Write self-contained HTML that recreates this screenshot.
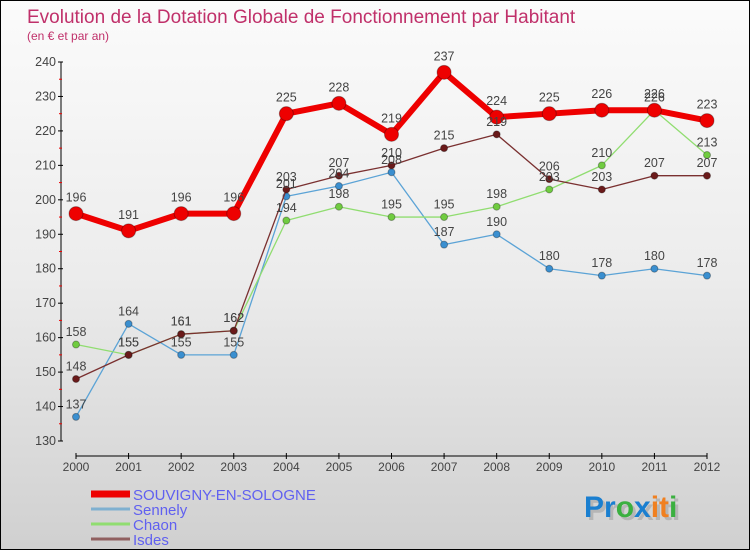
<!DOCTYPE html>
<html><head><meta charset="utf-8">
<style>
body{margin:0;}
#root{width:750px;height:550px;position:relative;overflow:hidden;box-sizing:border-box;border:1px solid #000;
background:linear-gradient(#fbfbfb 0%,#ececec 50%,#d0d0d0 100%);font-family:"Liberation Sans",sans-serif;}
svg text{font-family:"Liberation Sans",sans-serif;}
</style></head><body>
<div id="root">
<svg id="chart" width="750" height="550">
<text x="26" y="22" font-size="19" font-weight="normal" fill="#c0306a">Evolution de la Dotation Globale de Fonctionnement par Habitant</text>
<text x="26" y="39" font-size="12" fill="#c0306a">(en € et par an)</text>
<g id="axes"></g>
<g id="series"></g>
<g id="labels"></g>
<g id="legend"></g>
<text x="586" y="519" font-size="30" font-weight="bold" fill="#999" opacity="0.5">Proxiti</text>
<text x="583" y="516" font-size="30" font-weight="bold"><tspan fill="#1a7fd0">Pr</tspan><tspan fill="#3bb040">o</tspan><tspan fill="#1a7fd0">x</tspan><tspan fill="#f08020">i</tspan><tspan fill="#f08020">t</tspan><tspan fill="#3bb040">i</tspan></text>
</svg>
</div>
<script>
const years=[2000,2001,2002,2003,2004,2005,2006,2007,2008,2009,2010,2011,2012];
const yTicks=[130,140,150,160,170,180,190,200,210,220,230,240];
const souvigny=[196,191,196,196,225,228,219,237,224,225,226,226,223];
const sennely=[137,164,155,155,201,204,208,187,190,180,178,180,178];
const chaon=[158,155,161,162,194,198,195,195,198,203,210,226,213];
const isdes=[148,155,161,162,203,207,210,215,219,206,203,207,207];
const seriesNames=["SOUVIGNY-EN-SOLOGNE","Sennely","Chaon","Isdes"];

const NS="http://www.w3.org/2000/svg";
const X0=75,X1=706,Y0=440,Y1=61,VMIN=130,VMAX=240;
function xs(i){return X0+(X1-X0)*i/(years.length-1);}
function ys(v){return Y0-(v-VMIN)*(Y0-Y1)/(VMAX-VMIN);}
function mk(tag,attrs,parent){const e=document.createElementNS(NS,tag);for(const k in attrs)e.setAttribute(k,attrs[k]);parent.appendChild(e);return e;}
const axes=document.getElementById('axes');
let e=mk('line',{x1:60,y1:Y1,x2:60,y2:Y0,stroke:'#000','stroke-width':1},axes);


e=mk('line',{x1:X0,y1:455,x2:X1,y2:455,stroke:'#000','stroke-width':1},axes);


yTicks.forEach((v,i)=>{
 mk('line',{x1:57,y1:ys(v),x2:62,y2:ys(v),stroke:'#000'},axes);
 if(i<yTicks.length-1) mk('line',{x1:58,y1:ys(v+5),x2:61,y2:ys(v+5),stroke:'#e00'},axes);
 const t=mk('text',{x:55,y:ys(v)+4,'font-size':12.5,'text-anchor':'end',fill:'#444'},axes);
 t.textContent=v;
 
 
});
years.forEach((yr,i)=>{
 mk('line',{x1:xs(i),y1:452,x2:xs(i),y2:458,stroke:'#000'},axes);
 const t=mk('text',{x:xs(i),y:470,'font-size':12,'text-anchor':'middle',fill:'#444'},axes);
 t.textContent=yr;
 
 
});
const sg=document.getElementById('series'),lg=document.getElementById('labels');
function draw(data,color,dot,lw,r,name){
 const g=mk('g',{},sg);
 
 
 const p=mk('polyline',{points:data.map((v,i)=>xs(i)+','+ys(v)).join(' '),fill:'none',stroke:color,'stroke-width':lw,'stroke-linejoin':'round'},g);
 
 
 data.forEach((v,i)=>{
  const c=mk('circle',{cx:xs(i),cy:ys(v),r:r,fill:dot,stroke:'rgba(0,0,0,0.3)','stroke-width':1},g);
  
  
  const t=mk('text',{x:xs(i),y:ys(v)-(r+5),'font-size':12.5,'text-anchor':'middle',fill:'#444'},lg);
  t.textContent=v;
  
  
 });
}
draw(sennely,'#5ba3d6','#3a8fd0',1.3,3.5,'sennely');
draw(chaon,'#90dd70','#70cc40',1.3,3.5,'chaon');
draw(isdes,'#7a3030','#6a1a1a',1.3,3.5,'isdes');
draw(souvigny,'#ee0000','#ee0000',6,7,'souvigny');
const lgd=document.getElementById('legend');
const lcol=['#ee0000','#7fb0d0','#90dd70','#906060'],lw=[7,3,3,3];
seriesNames.forEach((n,i)=>{
 const y=493+i*15;
 const l=mk('line',{x1:90,y1:y,x2:129,y2:y,stroke:lcol[i],'stroke-width':lw[i]},lgd);
 
 
 const t=mk('text',{x:132,y:y+6,'font-size':15,fill:'#6060f0'},lgd);
 t.textContent=n;
 
 
});
</script>
</body></html>
